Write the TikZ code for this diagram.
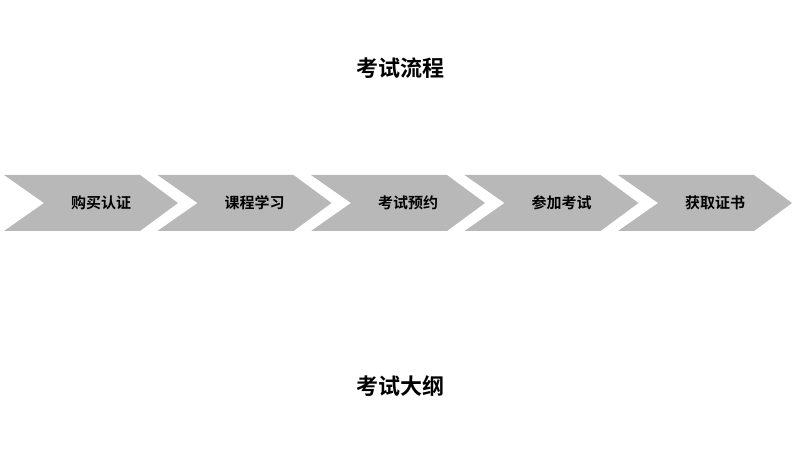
\documentclass[tikz,border=0pt]{standalone}
\usepackage{fontspec}
\newfontfamily\cjk{Noto Sans CJK SC Bold}
\tikzset{
  chevron/.style={fill=black!28, draw=none},
  steplabel/.style={font=\cjk\fontsize{15pt}{15pt}\selectfont, inner sep=0pt},
  titlelabel/.style={font=\cjk\fontsize{22pt}{22pt}\selectfont, inner sep=0pt}
}
\begin{document}
\begin{tikzpicture}[x=1pt,y=1pt]
  \useasboundingbox (0,0) rectangle (800,463);
  % title
  \node[titlelabel] (flow) at (400,395) {考试流程};
  % steps
  \foreach \i/\txt in {0/购买认证,1/课程学习,2/考试预约,3/参加考试,4/获取证书} {
    \pgfmathsetmacro{\sx}{4+153.5*\i}
    \fill[chevron] (\sx,288) -- ({\sx+136},288) -- ({\sx+174},260)
      -- ({\sx+136},232) -- (\sx,232) -- ({\sx+40},260) -- cycle;
    \node[steplabel] (step\i) at ({\sx+97},260) {\txt};
  }
  % outline
  \node[titlelabel] (outline) at (400,77) {考试大纲};
\end{tikzpicture}
\end{document}
